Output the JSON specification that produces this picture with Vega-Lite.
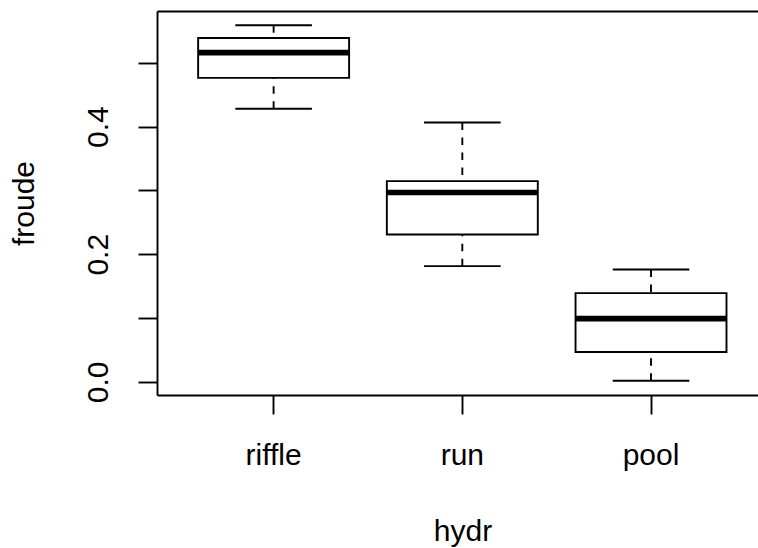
{
  "$schema": "https://vega.github.io/schema/vega-lite/v6.json",
  "width": 601,
  "height": 384,
  "autosize": {"type": "none"},
  "padding": {"left": 157, "top": 11, "right": 0, "bottom": 153},
  "background": "white",
  "config": {
    "view": {"stroke": null},
    "axis": {
      "labelFont": "Liberation Sans",
      "titleFont": "Liberation Sans",
      "labelFontSize": 30,
      "titleFontSize": 30,
      "titleFontWeight": "normal",
      "labelColor": "#000000",
      "titleColor": "#000000",
      "domainColor": "#000000",
      "tickColor": "#000000",
      "domainWidth": 1.9,
      "tickWidth": 1.9,
      "grid": false,
      "labelFlush": false,
      "labelOverlap": false
    }
  },
  "data": {
    "values": [
      {"hydr": "riffle", "lower": 0.428, "q1": 0.4765, "median": 0.516, "q3": 0.539, "upper": 0.559},
      {"hydr": "run", "lower": 0.1813, "q1": 0.231, "median": 0.2968, "q3": 0.3146, "upper": 0.4065},
      {"hydr": "pool", "lower": 0.0016, "q1": 0.0466, "median": 0.099, "q3": 0.139, "upper": 0.176}
    ]
  },
  "encoding": {
    "x": {
      "field": "hydr",
      "type": "nominal",
      "sort": ["riffle", "run", "pool"],
      "scale": {"type": "band", "paddingInner": 0, "paddingOuter": 0.0925, "align": 0.638, "round": false},
      "axis": null
    }
  },
  "layer": [
    {
      "mark": {"type": "rule", "color": "#000000", "strokeWidth": 1.9, "strokeDash": [7.5, 7.5]},
      "encoding": {
        "x": {
          "field": "hydr",
          "type": "nominal",
          "sort": ["riffle", "run", "pool"],
          "scale": {"type": "band", "paddingInner": 0, "paddingOuter": 0.0925, "align": 0.638, "round": false},
          "axis": {
            "orient": "bottom",
            "title": "hydr",
            "labelAngle": 0,
            "tickSize": 19,
            "labelBaseline": "alphabetic",
            "labelPadding": 50,
            "titleBaseline": "alphabetic",
            "titlePadding": 70,
            "titleX": 305.5
          }
        },
        "y": {
          "field": "upper",
          "type": "quantitative",
          "scale": {"domain": [-0.0207, 0.5813], "nice": false, "zero": false},
          "axis": {
            "title": "froude",
            "values": [0, 0.1, 0.2, 0.3, 0.4, 0.5],
            "labelExpr": "round(datum.value*10) % 2 == 0 ? format(datum.value, '.1f') : ''",
            "labelAngle": 270,
            "labelAlign": "center",
            "labelBaseline": "alphabetic",
            "labelPadding": 31,
            "tickSize": 19,
            "titleBaseline": "alphabetic",
            "titlePadding": 50
          }
        },
        "y2": {"field": "q3"}
      }
    },
    {
      "mark": {"type": "rule", "color": "#000000", "strokeWidth": 1.9, "strokeDash": [7.5, 7.5]},
      "encoding": {
        "x": {
          "field": "hydr",
          "type": "nominal",
          "sort": ["riffle", "run", "pool"],
          "scale": {"type": "band", "paddingInner": 0, "paddingOuter": 0.0925, "align": 0.638, "round": false},
          "axis": {"orient": "top", "labels": false, "ticks": false, "title": null, "domain": true}
        },
        "y": {
          "field": "lower",
          "type": "quantitative",
          "scale": {"domain": [-0.0207, 0.5813], "nice": false, "zero": false},
          "axis": null
        },
        "y2": {"field": "q1"}
      }
    },
    {
      "mark": {"type": "tick", "color": "#000000", "opacity": 1, "size": 76.6, "thickness": 1.9, "orient": "horizontal"},
      "encoding": {
        "y": {
          "field": "upper",
          "type": "quantitative",
          "scale": {"domain": [-0.0207, 0.5813], "nice": false, "zero": false},
          "axis": null
        }
      }
    },
    {
      "mark": {"type": "tick", "color": "#000000", "opacity": 1, "size": 76.6, "thickness": 1.9, "orient": "horizontal"},
      "encoding": {
        "y": {
          "field": "lower",
          "type": "quantitative",
          "scale": {"domain": [-0.0207, 0.5813], "nice": false, "zero": false},
          "axis": null
        }
      }
    },
    {
      "mark": {"type": "bar", "fill": "#ffffff", "stroke": "#000000", "strokeWidth": 1.9, "width": {"band": 0.8}, "opacity": 1},
      "encoding": {
        "y": {
          "field": "q1",
          "type": "quantitative",
          "scale": {"domain": [-0.0207, 0.5813], "nice": false, "zero": false},
          "axis": null
        },
        "y2": {"field": "q3"}
      }
    },
    {
      "mark": {"type": "tick", "color": "#000000", "opacity": 1, "size": 151, "thickness": 5.6, "orient": "horizontal"},
      "encoding": {
        "y": {
          "field": "median",
          "type": "quantitative",
          "scale": {"domain": [-0.0207, 0.5813], "nice": false, "zero": false},
          "axis": null
        }
      }
    }
  ],
  "resolve": {"axis": {"x": "independent", "y": "independent"}}
}
